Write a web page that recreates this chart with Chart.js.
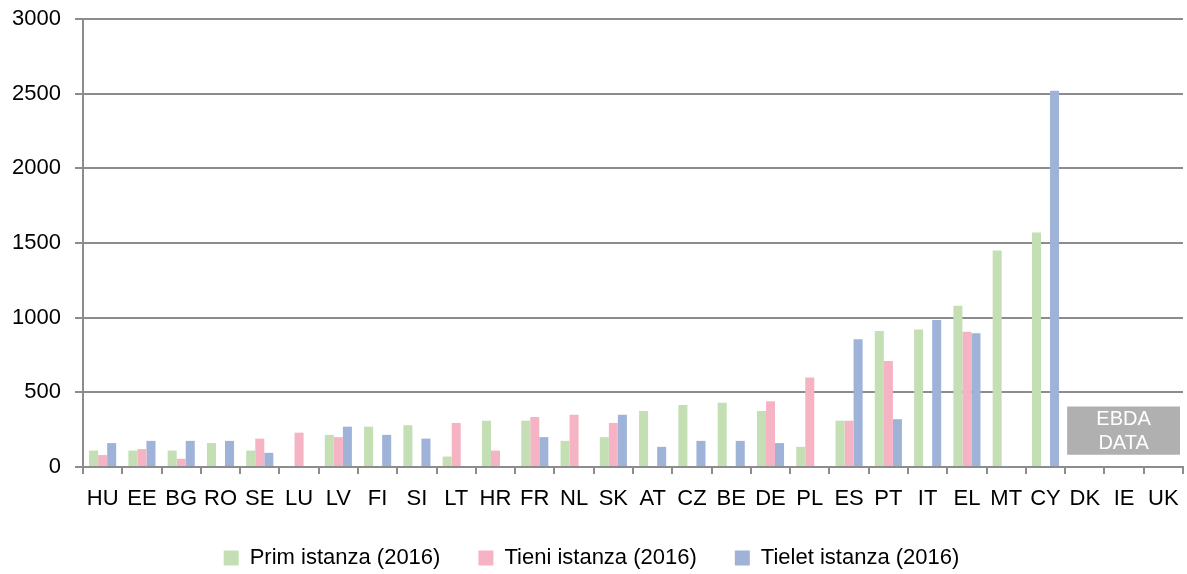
<!DOCTYPE html>
<html>
<head>
<meta charset="utf-8">
<script src="https://cdn.jsdelivr.net/npm/chart.js@4/dist/chart.umd.min.js"></script>
<style>
  html, body { margin: 0; padding: 0; background: #fff; }
  #wrap { width: 1187px; height: 574px; }
</style>
</head>
<body>
<div id="wrap"><canvas id="chart" width="1187" height="574"></canvas></div>
<script>
// categories
const countries = ['HU', 'EE', 'BG', 'RO', 'SE', 'LU', 'LV', 'FI', 'SI', 'LT', 'HR', 'FR', 'NL', 'SK',
    'AT', 'CZ', 'BE', 'DE', 'PL', 'ES', 'PT', 'IT', 'EL', 'MT', 'CY', 'DK', 'IE', 'UK'];

// series values
const primIstanza = [110, 110, 110, 160, 110, null, 215, 270, 280, 70, 310, 310, 175, 200,
    375, 415, 430, 375, 135, 310, 910, 920, 1080, 1450, 1570, null, null, null];
const tieniIstanza = [80, 120, 55, null, 190, 230, 200, null, null, 295, 110, 335, 350, 295,
    null, null, null, 440, 600, 310, 710, null, 905, null, null, null, null, null];
const tieletIstanza = [160, 175, 175, 175, 95, null, 270, 215, 190, null, null, 200, null, 350,
    135, 175, 175, 160, null, 855, 320, 985, 895, null, 2520, null, null, null];

// y axis ticks
const yMin = 0;
const yMax = 3000;
const yStep = 500;

// grey "no data" note over the last three countries
const noDataLines = ['EBDA', 'DATA'];
const noDataFrom = 'DK';
const noDataTo = 'UK';

const fontFamily = '"Liberation Sans", Arial, sans-serif';
const gridColor = '#8c8c8c';

const noDataBox = {
    id: 'noDataBox',
    afterDatasetsDraw(chart) {
        const x = chart.scales.x;
        const y = chart.scales.y;
        const cw = (x.right - x.left) / countries.length;
        const left = x.getPixelForValue(countries.indexOf(noDataFrom)) - cw / 2 + 2;
        const right = x.getPixelForValue(countries.indexOf(noDataTo)) + cw / 2 - 3;
        const top = y.getPixelForValue(405);
        const bottom = y.getPixelForValue(82);
        const ctx = chart.ctx;
        ctx.save();
        ctx.fillStyle = '#b0b0b0';
        ctx.fillRect(left, top, right - left, bottom - top);
        ctx.fillStyle = '#ffffff';
        ctx.font = '20px ' + fontFamily;
        ctx.textAlign = 'center';
        ctx.textBaseline = 'middle';
        const cx = (left + right) / 2;
        const lh = (bottom - top) / 2;
        noDataLines.forEach(function(line, i) {
            ctx.fillText(line, cx, top + lh * (i + 0.5) + 1);
        });
        ctx.restore();
    }
};

Chart.defaults.font.family = fontFamily;
Chart.defaults.color = '#000';

var ctx = document.getElementById('chart').getContext('2d');
var myChart = new Chart(ctx, {
    type: 'bar',
    data: {
        labels: countries,
        datasets: [{
            label: 'Prim istanza (2016)',
            data: primIstanza,
            backgroundColor: '#c4dfb4'
        },
        {
            label: 'Tieni istanza (2016)',
            data: tieniIstanza,
            backgroundColor: '#f6b3c4'
        },
        {
            label: 'Tielet istanza (2016)',
            data: tieletIstanza,
            backgroundColor: '#9fb2d8'
        }]
    },
    options: {
        responsive: false,
        animation: false,
        layout: {
            padding: { top: 19, left: 0, right: 4, bottom: 0 }
        },
        datasets: {
            bar: {
                barPercentage: 1,
                categoryPercentage: 0.69,
                skipNull: false
            }
        },
        scales: {
            x: {
                grid: {
                    drawOnChartArea: false,
                    drawTicks: true,
                    tickLength: 7,
                    color: gridColor,
                    lineWidth: 2
                },
                border: { display: true, color: gridColor, width: 2 },
                ticks: {
                    font: { size: 22, lineHeight: 0.73 },
                    padding: 17,
                    maxRotation: 0,
                    autoSkip: false
                },
                // keep the axis box short so the legend keeps its room
                afterFit: function(scale) {
                    scale.height = 42;
                    scale.paddingLeft = 0;
                    scale.paddingRight = 0;
                }
            },
            y: {
                min: yMin,
                max: yMax,
                grid: {
                    color: gridColor,
                    lineWidth: 2,
                    tickLength: 8
                },
                border: { display: true, color: gridColor, width: 2 },
                ticks: {
                    stepSize: yStep,
                    font: { size: 22 },
                    padding: 14,
                    callback: function(value) { return String(value); }
                },
                afterFit: function(scale) {
                    scale.width = 83;
                    scale.paddingTop = 0;
                    scale.paddingBottom = 0;
                }
            }
        },
        plugins: {
            legend: {
                position: 'bottom',
                maxHeight: 65,
                labels: {
                    boxWidth: 15,
                    boxHeight: 15,
                    padding: 38,
                    font: { size: 22 }
                }
            },
            tooltip: { enabled: false }
        }
    },
    plugins: [noDataBox]
});
</script>
</body>
</html>
